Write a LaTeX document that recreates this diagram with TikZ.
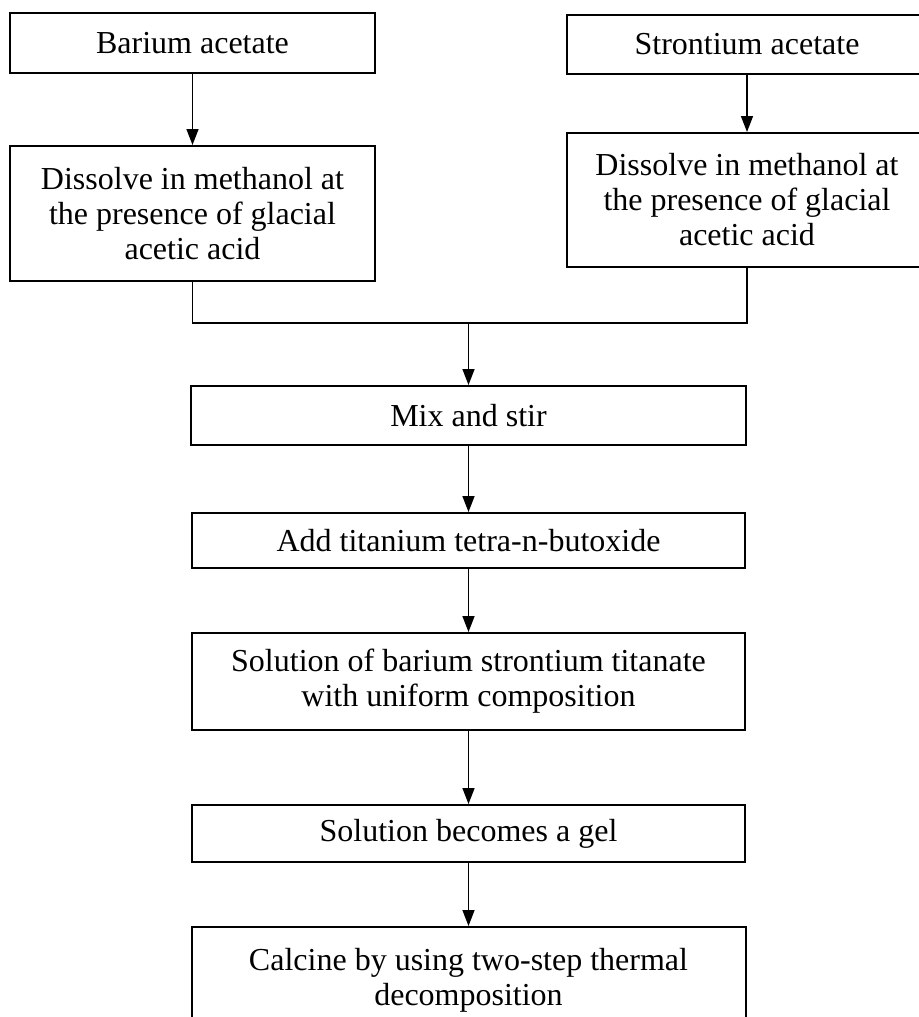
\documentclass[tikz,border=0pt]{standalone}
\usepackage{fontspec}
\setmainfont{Liberation Serif}
\usetikzlibrary{arrows.meta}

\begin{document}
\begin{tikzpicture}[x=1pt, y=-1pt,
  stepbox/.style={draw, line width=2pt, align=center, inner sep=0pt,
    font=\fontsize{32}{35}\selectfont},
  arr/.style={line width=1.5pt, -{Triangle[length=16pt, width=12pt]}}]
  \useasboundingbox (0,0) rectangle (918,1017);
  \fill[white] (0,0) rectangle (918,1017);

  % the two starting materials
  \node[stepbox, minimum width=365pt, minimum height=60pt] (barium) at (192.5, 43) {Barium acetate};
  \node[stepbox, minimum width=360pt, minimum height=59pt] (stront) at (747, 44.5) {Strontium acetate};
  \node[stepbox, minimum width=365pt, minimum height=135pt] (dissL) at (192.5, 213.5)
    {Dissolve in methanol at\\ the presence of glacial\\ acetic acid};
  \node[stepbox, minimum width=360pt, minimum height=134pt] (dissR) at (747, 200)
    {Dissolve in methanol at\\ the presence of glacial\\ acetic acid};

  % main line
  \node[stepbox, minimum width=555pt, minimum height=59pt] (mix) at (468.5, 415.5) {Mix and stir};
  \node[stepbox, minimum width=553pt, minimum height=55pt] (addti) at (468.5, 540.5) {Add titanium tetra-n-butoxide};
  \node[stepbox, minimum width=553pt, minimum height=97pt] (soln) at (468.5, 681.5)
    {Solution of barium strontium titanate\\ with uniform composition};
  \node[stepbox, minimum width=553pt, minimum height=57pt] (gel) at (468.5, 833.5) {Solution becomes a gel};
  \node[stepbox, minimum width=554pt, minimum height=106pt] (calc) at (468.5, 980)
    {Calcine by using two-step thermal\\ decomposition};

  \coordinate (join) at (468.5, 323);

  \draw[arr] (barium) -- (dissL);
  \draw[arr] (stront) -- (dissR);
  \draw[line width=1.5pt] (dissL.south) |- (join) -| (dissR.south);
  \draw[arr] (join) -- (mix);
  \draw[arr] (mix) -- (addti);
  \draw[arr] (addti) -- (soln);
  \draw[arr] (soln) -- (gel);
  \draw[arr] (gel) -- (calc);
\end{tikzpicture}
\end{document}
